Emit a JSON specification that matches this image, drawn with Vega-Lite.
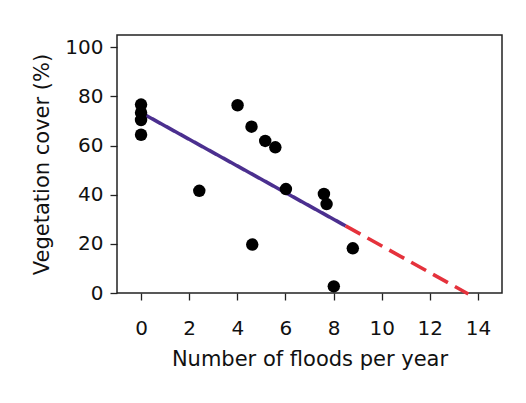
{
  "$schema": "https://vega.github.io/schema/vega-lite/v6.json",
  "width": 385,
  "height": 258,
  "autosize": {"type": "none"},
  "padding": {"left": 117, "top": 35, "right": 24, "bottom": 110},
  "background": "white",
  "config": {
    "font": "DejaVu Sans",
    "view": {"stroke": "#222222", "strokeWidth": 1.5},
    "axis": {
      "domain": false,
      "grid": false,
      "tickSize": 7,
      "tickColor": "#222222",
      "tickWidth": 1.3,
      "labelFontSize": 20,
      "labelColor": "#111111",
      "titleFontSize": 21,
      "titleFontWeight": "normal",
      "titleColor": "#111111"
    }
  },
  "datasets": {
    "points": [
      {"floods": 0, "cover": 76.7},
      {"floods": 0, "cover": 73.4},
      {"floods": 0, "cover": 70.4},
      {"floods": 0, "cover": 64.4},
      {"floods": 2.42, "cover": 41.6},
      {"floods": 4.01, "cover": 76.4},
      {"floods": 4.59, "cover": 67.7},
      {"floods": 4.62, "cover": 19.7},
      {"floods": 5.16, "cover": 61.9},
      {"floods": 5.58, "cover": 59.3},
      {"floods": 6.02, "cover": 42.3},
      {"floods": 7.6, "cover": 40.3},
      {"floods": 7.71, "cover": 36.2},
      {"floods": 8.01, "cover": 2.7},
      {"floods": 8.8, "cover": 18.2}
    ],
    "fit": [
      {"floods": 0, "cover": 73.4, "part": "fitted"},
      {"floods": 8.5, "cover": 27.3, "part": "fitted"},
      {"floods": 8.5, "cover": 27.3, "part": "extrapolated"},
      {"floods": 13.6, "cover": -0.4, "part": "extrapolated"}
    ]
  },
  "layer": [
    {
      "data": {"name": "fit"},
      "mark": {"type": "line", "strokeWidth": 3.6, "clip": false},
      "encoding": {
        "x": {"field": "floods", "type": "quantitative"},
        "y": {"field": "cover", "type": "quantitative"},
        "color": {
          "field": "part", "type": "nominal",
          "scale": {"domain": ["fitted", "extrapolated"], "range": ["#4b2f8f", "#e5323c"]},
          "legend": null
        },
        "strokeDash": {
          "field": "part", "type": "nominal",
          "scale": {"domain": ["fitted", "extrapolated"], "range": [[1, 0], [17, 8]]},
          "legend": null
        }
      }
    },
    {
      "data": {"name": "points"},
      "mark": {"type": "circle", "size": 155, "color": "black", "opacity": 1},
      "encoding": {
        "x": {
          "field": "floods", "type": "quantitative",
          "scale": {"domain": [-1, 15], "nice": false, "zero": false},
          "axis": {"values": [0, 2, 4, 6, 8, 10, 12, 14], "labelPadding": 18, "title": "Number of floods per year", "titlePadding": 10}
        },
        "y": {
          "field": "cover", "type": "quantitative",
          "scale": {"domain": [0, 105], "nice": false},
          "axis": {"values": [0, 20, 40, 60, 80, 100], "labelPadding": 7, "title": "Vegetation cover (%)", "titlePadding": 12}
        }
      }
    }
  ]
}
